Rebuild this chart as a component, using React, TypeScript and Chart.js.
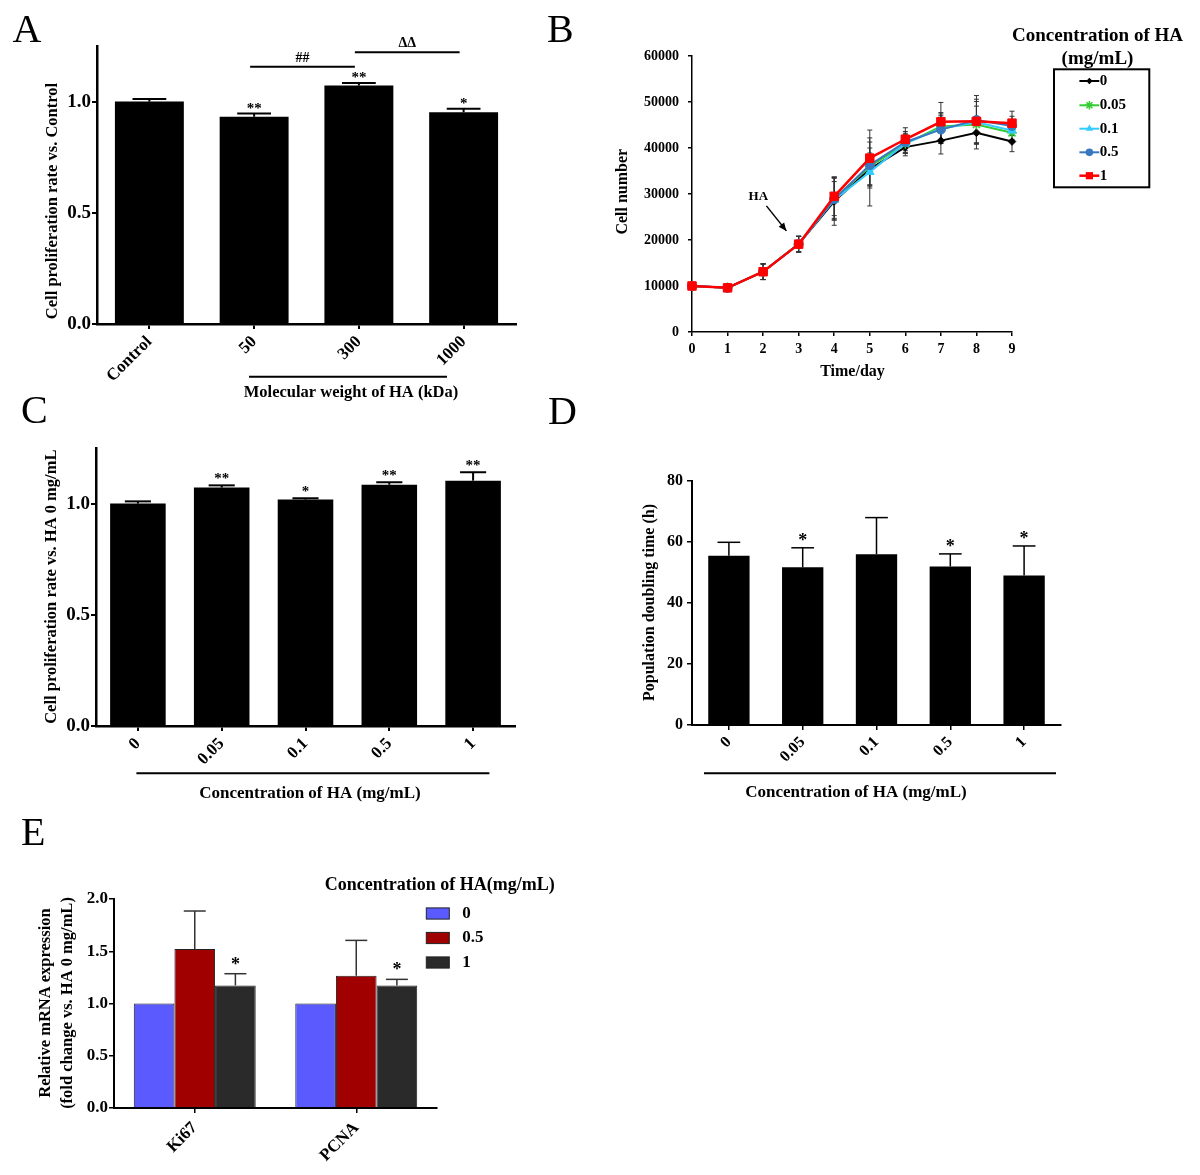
import React, { useEffect, useRef } from 'react';
import { Chart, registerables } from 'chart.js';

Chart.register(...registerables);

const SERIF = '"Liberation Serif", "Times New Roman", Times, serif';
const PAGE_W = 1200;
const PAGE_H = 1175;

// ---------------- Panel A ----------------
const A_CATEGORIES = ['Control', '50', '300', '1000'];
const A_VALUES = [1.0, 0.932, 1.072, 0.952];
const A_ERRORS = [0.012, 0.014, 0.012, 0.016];
const A_MARKS = ['', '**', '**', '*'];
const A_Y_TICKS = [0, 0.5, 1.0];
const A_BRACKETS = [
  { from: 1, to: 2, level: 1.157, label: '##' },
  { from: 2, to: 3, level: 1.222, label: 'ΔΔ' },
];

// ---------------- Panel B ----------------
const B_DAYS = [0, 1, 2, 3, 4, 5, 6, 7, 8, 9];
const B_X_TICKS = [0, 1, 2, 3, 4, 5, 6, 7, 8, 9];
const B_Y_TICKS = [0, 10000, 20000, 30000, 40000, 50000, 60000];
const B_SERIES_LABELS = ['0', '0.05', '0.1', '0.5', '1'];
const B_HA_0 = [10000, 9600, 13100, 19100, 28400, 35400, 40200, 41600, 43300, 41400];
const B_HA_005 = [10000, 9600, 13100, 19100, 29000, 36000, 40900, 44700, 45100, 43300];
const B_HA_01 = [10000, 9600, 13100, 19100, 28700, 34800, 41000, 44200, 45600, 43800];
const B_HA_05 = [10000, 9600, 13100, 19100, 28900, 36300, 41300, 44000, 46100, 44800];
const B_HA_1 = [10000, 9600, 13100, 19100, 29500, 37800, 41900, 45700, 45800, 45400];
const B_SD_0 = [250, 250, 1700, 1700, 5200, 3500, 1900, 2900, 3500, 2200];
const B_SD_005 = [250, 250, 1700, 1700, 4700, 4000, 2000, 3000, 4000, 2000];
const B_SD_01 = [250, 250, 1700, 1700, 4000, 7400, 2200, 3200, 4500, 2000];
const B_SD_05 = [250, 250, 1700, 1700, 4500, 5000, 2300, 3000, 5300, 2100];
const B_SD_1 = [250, 250, 1700, 1700, 4200, 6100, 2500, 4200, 4800, 2600];
const B_HA_ARROW = { fromDay: 2.093, fromVal: 27420, toDay: 2.655, toVal: 21980, textDay: 1.865, textVal: 29470 };

// ---------------- Panel C ----------------
const C_CATEGORIES = ['0', '0.05', '0.1', '0.5', '1'];
const C_VALUES = [1.0, 1.072, 1.018, 1.085, 1.103];
const C_ERRORS = [0.01, 0.01, 0.006, 0.011, 0.038];
const C_MARKS = ['', '**', '*', '**', '**'];
const C_Y_TICKS = [0, 0.5, 1.0];

// ---------------- Panel D ----------------
const D_CATEGORIES = ['0', '0.05', '0.1', '0.5', '1'];
const D_VALUES = [55.5, 51.7, 56.0, 52.0, 49.0];
const D_ERRORS = [4.4, 6.4, 12.0, 4.1, 9.7];
const D_MARKS = ['', '*', '', '*', '*'];
const D_Y_TICKS = [0, 20, 40, 60, 80];

// ---------------- Panel E ----------------
const E_CATEGORIES = ['Ki67', 'PCNA'];
const E_SERIES_LABELS = ['0', '0.5', '1'];
const E_HA_0 = [1.0, 1.0];
const E_HA_0_ERR = [0, 0];
const E_HA_05 = [1.522, 1.266];
const E_HA_05_ERR = [0.363, 0.338];
const E_HA_1 = [1.173, 1.173];
const E_HA_1_ERR = [0.112, 0.058];
const E_HA_1_MARKS = ['*', '*'];
const E_Y_TICKS = [0, 0.5, 1.0, 1.5, 2.0];

// ---------------- helpers ----------------
type Area = { left: number; top: number; right: number; bottom: number };

function frame(area: Area) {
  return {
    autoPadding: false,
    padding: { left: 0, top: area.top, right: PAGE_W - area.right, bottom: 0 },
  };
}

function label(
  ctx: CanvasRenderingContext2D,
  s: string,
  x: number,
  y: number,
  size: number,
  o: { weight?: string; align?: CanvasTextAlign; baseline?: CanvasTextBaseline; rotate?: number; color?: string } = {}
) {
  ctx.save();
  ctx.font = `${o.weight ?? 'bold'} ${size}px ${SERIF}`;
  ctx.fillStyle = o.color ?? '#000';
  ctx.textAlign = o.align ?? 'center';
  ctx.textBaseline = o.baseline ?? 'middle';
  ctx.translate(x, y);
  if (o.rotate) ctx.rotate(o.rotate);
  ctx.fillText(s, 0, 0);
  ctx.restore();
}

function segment(ctx: CanvasRenderingContext2D, x1: number, y1: number, x2: number, y2: number, w = 2, color = '#000') {
  ctx.save();
  ctx.strokeStyle = color;
  ctx.lineWidth = w;
  ctx.beginPath();
  ctx.moveTo(x1, y1);
  ctx.lineTo(x2, y2);
  ctx.stroke();
  ctx.restore();
}

function panelLetter(ctx: CanvasRenderingContext2D, s: string, x: number, y: number) {
  label(ctx, s, x, y, 40, { weight: 'normal', align: 'left', baseline: 'alphabetic' });
}

function marker(ctx: CanvasRenderingContext2D, style: string, x: number, y: number, r: number, color: string) {
  ctx.save();
  ctx.fillStyle = color;
  ctx.strokeStyle = color;
  ctx.lineWidth = 1.5;
  ctx.beginPath();
  if (style === 'rectRot') {
    ctx.moveTo(x, y - r); ctx.lineTo(x + r, y); ctx.lineTo(x, y + r); ctx.lineTo(x - r, y); ctx.closePath(); ctx.fill();
  } else if (style === 'star') {
    const d = r * Math.SQRT1_2;
    ctx.moveTo(x - r, y); ctx.lineTo(x + r, y);
    ctx.moveTo(x, y - r); ctx.lineTo(x, y + r);
    ctx.moveTo(x - d, y - d); ctx.lineTo(x + d, y + d);
    ctx.moveTo(x - d, y + d); ctx.lineTo(x + d, y - d);
    ctx.stroke();
  } else if (style === 'triangle') {
    ctx.moveTo(x, y - r); ctx.lineTo(x + r * 0.87, y + r * 0.5); ctx.lineTo(x - r * 0.87, y + r * 0.5); ctx.closePath(); ctx.fill();
  } else if (style === 'circle') {
    ctx.arc(x, y, r, 0, Math.PI * 2); ctx.fill();
  } else {
    const h = r * Math.SQRT1_2;
    ctx.rect(x - h, y - h, 2 * h, 2 * h); ctx.fill();
  }
  ctx.restore();
}

// ---------------- bar chart builder ----------------
interface BarSeries { values: number[]; errors: number[]; fill: string; stroke?: string }
interface BarSpec {
  area: Area;
  categories: string[];
  series: BarSeries[];
  yMax: number;
  yTicks: number[];
  yDigits: number;
  yFont: number;
  xFont: number;
  axisW: number;
  tickW: number;
  tickLen: number;
  yPad: number;
  xPad: number;
  barPct: number;
  catPct: number;
  capFrac: number;
  errW: number;
  errColor: string;
  decorate: (chart: any, ctx: CanvasRenderingContext2D) => void;
}

function barChart(spec: BarSpec): any {
  const grid = {
    display: true,
    drawOnChartArea: false,
    drawTicks: true,
    tickLength: spec.tickLen,
    color: '#000',
    lineWidth: spec.tickW,
  };
  const border = { display: true, color: '#000', width: spec.axisW };
  const plugin = {
    id: 'barDecor',
    afterDatasetsDraw(chart: any) {
      const ctx = chart.ctx as CanvasRenderingContext2D;
      const ys = chart.scales.y;
      spec.series.forEach((s, d) => {
        const meta = chart.getDatasetMeta(d);
        meta.data.forEach((el: any, i: number) => {
          const err = s.errors[i];
          if (!err) return;
          const top = ys.getPixelForValue(s.values[i] + err);
          const cap = (el.width * spec.capFrac) / 2;
          segment(ctx, el.x, el.y, el.x, top, spec.errW, spec.errColor);
          segment(ctx, el.x - cap, top, el.x + cap, top, spec.errW, spec.errColor);
        });
      });
    },
    afterDraw(chart: any) {
      spec.decorate(chart, chart.ctx);
    },
  };
  return {
    type: 'bar',
    data: {
      labels: spec.categories,
      datasets: spec.series.map((s) => ({
        data: s.values,
        backgroundColor: s.fill,
        borderColor: s.stroke ?? s.fill,
        borderWidth: s.stroke ? 1 : 0,
        barPercentage: spec.barPct,
        categoryPercentage: spec.catPct,
      })),
    },
    options: {
      animation: false,
      responsive: false,
      devicePixelRatio: 1,
      events: [],
      layout: frame(spec.area),
      plugins: { legend: { display: false }, tooltip: { enabled: false } },
      scales: {
        x: {
          type: 'category',
          offset: true,
          z: 1,
          grid: { ...grid, offset: false },
          border,
          ticks: {
            color: '#000',
            autoSkip: false,
            minRotation: 45,
            maxRotation: 45,
            padding: spec.xPad,
            font: { family: SERIF, weight: 'bold', size: spec.xFont },
          },
          afterFit: (s: any) => { s.height = PAGE_H - spec.area.bottom; },
        },
        y: {
          type: 'linear',
          min: 0,
          max: spec.yMax,
          grid,
          border,
          ticks: {
            color: '#000',
            padding: spec.yPad,
            font: { family: SERIF, weight: 'bold', size: spec.yFont },
            callback: (v: any) => Number(v).toFixed(spec.yDigits),
          },
          afterBuildTicks: (s: any) => { s.ticks = spec.yTicks.map((v) => ({ value: v })); },
          afterFit: (s: any) => { s.width = spec.area.left; },
        },
      },
    },
    plugins: [plugin],
  };
}

function starMarks(
  chart: any,
  ctx: CanvasRenderingContext2D,
  datasetIndex: number,
  values: number[],
  errors: number[],
  marks: string[],
  size: number,
  lift: number
) {
  const ys = chart.scales.y;
  const meta = chart.getDatasetMeta(datasetIndex);
  marks.forEach((m, i) => {
    if (!m) return;
    const el = meta.data[i];
    const y = ys.getPixelForValue(values[i] + errors[i]);
    label(ctx, m, el.x, y - lift, size, { baseline: 'alphabetic' });
  });
}

// ---------------- Panel configs ----------------
function configA() {
  return barChart({
    area: { left: 97, top: 46, right: 516, bottom: 324 },
    categories: A_CATEGORIES,
    series: [{ values: A_VALUES, errors: A_ERRORS, fill: '#000' }],
    yMax: 1.25,
    yTicks: A_Y_TICKS,
    yDigits: 1,
    yFont: 19,
    xFont: 17,
    axisW: 2.5,
    tickW: 2,
    tickLen: 5,
    yPad: 1,
    xPad: 3,
    barPct: 0.658,
    catPct: 1,
    capFrac: 0.49,
    errW: 2,
    errColor: '#000',
    decorate: (chart, ctx) => {
      panelLetter(ctx, 'A', 12.5, 41.7);
      label(ctx, 'Cell proliferation rate vs. Control', 53, 201, 16.5, { rotate: -Math.PI / 2 });
      segment(ctx, 249, 376.7, 447, 376.7, 2);
      label(ctx, 'Molecular weight of HA (kDa)', 351, 392.7, 16.5);
      starMarks(chart, ctx, 0, A_VALUES, A_ERRORS, A_MARKS, 15, 1);
      const xs = chart.scales.x;
      const ys = chart.scales.y;
      A_BRACKETS.forEach((b) => {
        const y = ys.getPixelForValue(b.level);
        const x1 = xs.getPixelForTick(b.from) - 4;
        const x2 = xs.getPixelForTick(b.to) - 4;
        segment(ctx, x1, y, x2, y, 2);
        label(ctx, b.label, (x1 + x2) / 2, y - 5, 14, { baseline: 'alphabetic' });
      });
    },
  });
}

function configC() {
  return barChart({
    area: { left: 96, top: 448, right: 515, bottom: 726 },
    categories: C_CATEGORIES,
    series: [{ values: C_VALUES, errors: C_ERRORS, fill: '#000' }],
    yMax: 1.25,
    yTicks: C_Y_TICKS,
    yDigits: 1,
    yFont: 19,
    xFont: 17,
    axisW: 2.5,
    tickW: 2,
    tickLen: 5,
    yPad: 1,
    xPad: 3,
    barPct: 0.663,
    catPct: 1,
    capFrac: 0.47,
    errW: 2,
    errColor: '#000',
    decorate: (chart, ctx) => {
      panelLetter(ctx, 'C', 21, 423);
      label(ctx, 'Cell proliferation rate vs. HA 0 mg/mL', 51.5, 586.7, 16.5, { rotate: -Math.PI / 2 });
      segment(ctx, 136.4, 773.3, 489.4, 773.3, 2);
      label(ctx, 'Concentration of HA (mg/mL)', 310, 793.3, 17);
      starMarks(chart, ctx, 0, C_VALUES, C_ERRORS, C_MARKS, 15, 2);
    },
  });
}

function configD() {
  return barChart({
    area: { left: 692, top: 481, right: 1061, bottom: 725 },
    categories: D_CATEGORIES,
    series: [{ values: D_VALUES, errors: D_ERRORS, fill: '#000' }],
    yMax: 80,
    yTicks: D_Y_TICKS,
    yDigits: 0,
    yFont: 16,
    xFont: 16,
    axisW: 2,
    tickW: 1.5,
    tickLen: 5,
    yPad: 4,
    xPad: 3,
    barPct: 0.56,
    catPct: 1,
    capFrac: 0.55,
    errW: 1.5,
    errColor: '#000',
    decorate: (chart, ctx) => {
      panelLetter(ctx, 'D', 548, 424);
      label(ctx, 'Population doubling time (h)', 650.3, 602.5, 16, { rotate: -Math.PI / 2 });
      segment(ctx, 704, 773.3, 1056, 773.3, 2);
      label(ctx, 'Concentration of HA (mg/mL)', 856, 792.7, 17);
      starMarks(chart, ctx, 0, D_VALUES, D_ERRORS, D_MARKS, 18, 2);
    },
  });
}

const E_COLORS = ['#5a5aff', '#a00000', '#2a2a2a'];

function configE() {
  const legendY = [913.5, 938, 962.5];
  return barChart({
    area: { left: 114, top: 899, right: 437, bottom: 1108 },
    categories: E_CATEGORIES,
    series: [
      { values: E_HA_0, errors: E_HA_0_ERR, fill: E_COLORS[0], stroke: '#222' },
      { values: E_HA_05, errors: E_HA_05_ERR, fill: E_COLORS[1], stroke: '#222' },
      { values: E_HA_1, errors: E_HA_1_ERR, fill: E_COLORS[2], stroke: '#222' },
    ],
    yMax: 2.0,
    yTicks: E_Y_TICKS,
    yDigits: 1,
    yFont: 17,
    xFont: 17,
    axisW: 2,
    tickW: 1.5,
    tickLen: 5,
    yPad: 1,
    xPad: 5,
    barPct: 1,
    catPct: 0.755,
    capFrac: 0.54,
    errW: 1.5,
    errColor: '#333',
    decorate: (chart, ctx) => {
      panelLetter(ctx, 'E', 21, 845);
      label(ctx, 'Relative mRNA expression', 46, 1003, 16.5, { rotate: -Math.PI / 2 });
      label(ctx, '(fold change vs. HA 0 mg/mL)', 68.2, 1003, 16.5, { rotate: -Math.PI / 2 });
      label(ctx, 'Concentration of HA(mg/mL)', 439.7, 885, 18);
      E_SERIES_LABELS.forEach((s, i) => {
        ctx.save();
        ctx.fillStyle = E_COLORS[i];
        ctx.strokeStyle = '#222';
        ctx.lineWidth = 1;
        ctx.fillRect(426.3, legendY[i] - 5.6, 23, 11.2);
        ctx.strokeRect(426.3, legendY[i] - 5.6, 23, 11.2);
        ctx.restore();
        label(ctx, s, 462.3, legendY[i], 17, { align: 'left' });
      });
      starMarks(chart, ctx, 2, E_HA_1, E_HA_1_ERR, E_HA_1_MARKS, 18, 4);
    },
  });
}

const B_SERIES = [
  { values: B_HA_0, sd: B_SD_0, color: '#000000', marker: 'rectRot', radius: 3.8, lineW: 2, order: 4 },
  { values: B_HA_005, sd: B_SD_005, color: '#33cc33', marker: 'star', radius: 5, lineW: 2, order: 3 },
  { values: B_HA_01, sd: B_SD_01, color: '#33ccff', marker: 'triangle', radius: 5, lineW: 2, order: 2 },
  { values: B_HA_05, sd: B_SD_05, color: '#3878c0', marker: 'circle', radius: 4.5, lineW: 2, order: 1 },
  { values: B_HA_1, sd: B_SD_1, color: '#ff0000', marker: 'rect', radius: 6, lineW: 2.5, order: 0 },
];

function configB() {
  const area: Area = { left: 692, top: 56, right: 1012, bottom: 332 };
  const grid = { display: true, drawOnChartArea: false, drawTicks: true, tickLength: 4, color: '#000', lineWidth: 1.5 };
  const border = { display: true, color: '#000', width: 1.5 };
  const legendY = [81, 105.3, 128.7, 152.3, 175.7];
  const plugin = {
    id: 'lineDecor',
    beforeDatasetsDraw(chart: any) {
      const ctx = chart.ctx as CanvasRenderingContext2D;
      const ys = chart.scales.y;
      const xs = chart.scales.x;
      B_SERIES.forEach((s) => {
        B_DAYS.forEach((d, i) => {
          const x = xs.getPixelForValue(d);
          const y1 = ys.getPixelForValue(s.values[i] - s.sd[i]);
          const y2 = ys.getPixelForValue(s.values[i] + s.sd[i]);
          segment(ctx, x, y1, x, y2, 1, '#333');
          segment(ctx, x - 2.5, y1, x + 2.5, y1, 1, '#333');
          segment(ctx, x - 2.5, y2, x + 2.5, y2, 1, '#333');
        });
      });
    },
    afterDraw(chart: any) {
      const ctx = chart.ctx as CanvasRenderingContext2D;
      const xs = chart.scales.x;
      const ys = chart.scales.y;
      panelLetter(ctx, 'B', 547, 42);
      label(ctx, 'Cell number', 623, 191.7, 16, { rotate: -Math.PI / 2 });
      label(ctx, 'Time/day', 852.5, 371.7, 16);
      // HA arrow
      const ax1 = xs.getPixelForValue(B_HA_ARROW.fromDay);
      const ay1 = ys.getPixelForValue(B_HA_ARROW.fromVal);
      const ax2 = xs.getPixelForValue(B_HA_ARROW.toDay);
      const ay2 = ys.getPixelForValue(B_HA_ARROW.toVal);
      segment(ctx, ax1, ay1, ax2, ay2, 1.5);
      const ang = Math.atan2(ay2 - ay1, ax2 - ax1);
      ctx.save();
      ctx.fillStyle = '#000';
      ctx.beginPath();
      ctx.moveTo(ax2, ay2);
      ctx.lineTo(ax2 - 8 * Math.cos(ang) + 3.5 * Math.sin(ang), ay2 - 8 * Math.sin(ang) - 3.5 * Math.cos(ang));
      ctx.lineTo(ax2 - 8 * Math.cos(ang) - 3.5 * Math.sin(ang), ay2 - 8 * Math.sin(ang) + 3.5 * Math.cos(ang));
      ctx.closePath();
      ctx.fill();
      ctx.restore();
      label(ctx, 'HA', xs.getPixelForValue(B_HA_ARROW.textDay), ys.getPixelForValue(B_HA_ARROW.textVal), 13);
      // legend
      label(ctx, 'Concentration of HA', 1097.5, 36, 19);
      label(ctx, '(mg/mL)', 1097.5, 59.5, 19);
      ctx.save();
      ctx.strokeStyle = '#000';
      ctx.lineWidth = 2;
      ctx.strokeRect(1054, 69.3, 95.3, 118);
      ctx.restore();
      B_SERIES.forEach((s, i) => {
        const y = legendY[i];
        segment(ctx, 1079.4, y, 1099.3, y, s.lineW, s.color);
        marker(ctx, s.marker, 1089.4, y, s.radius * 0.85, s.color);
        label(ctx, B_SERIES_LABELS[i], 1099.8, y, 15, { align: 'left' });
      });
    },
  };
  return {
    type: 'line',
    data: {
      datasets: B_SERIES.map((s, k) => ({
        label: B_SERIES_LABELS[k],
        data: B_DAYS.map((d, i) => ({ x: d, y: s.values[i] })),
        borderColor: s.color,
        backgroundColor: s.color,
        borderWidth: s.lineW,
        pointStyle: s.marker,
        pointRadius: s.radius,
        pointBorderWidth: s.marker === 'star' ? 1.5 : 1,
        pointBorderColor: s.color,
        pointBackgroundColor: s.color,
        order: s.order,
        clip: false,
        tension: 0,
      })),
    },
    options: {
      animation: false,
      responsive: false,
      devicePixelRatio: 1,
      events: [],
      layout: frame(area),
      plugins: { legend: { display: false }, tooltip: { enabled: false } },
      scales: {
        x: {
          type: 'linear',
          min: 0,
          max: 9,
          grid,
          border,
          ticks: {
            color: '#000',
            padding: 5,
            minRotation: 0,
            maxRotation: 0,
            font: { family: SERIF, weight: 'bold', size: 14 },
          },
          afterBuildTicks: (s: any) => { s.ticks = B_X_TICKS.map((v) => ({ value: v })); },
          afterFit: (s: any) => { s.height = PAGE_H - area.bottom; },
        },
        y: {
          type: 'linear',
          min: 0,
          max: 60000,
          grid,
          border,
          ticks: {
            color: '#000',
            padding: 9,
            font: { family: SERIF, weight: 'bold', size: 14 },
            callback: (v: any) => String(v),
          },
          afterBuildTicks: (s: any) => { s.ticks = B_Y_TICKS.map((v) => ({ value: v })); },
          afterFit: (s: any) => { s.width = area.left; },
        },
      },
    },
    plugins: [plugin],
  };
}

const CONFIGS = [configA, configB, configC, configD, configE];

export default function App() {
  const refs = useRef<(HTMLCanvasElement | null)[]>([]);
  useEffect(() => {
    const charts = CONFIGS.map((mk, i) => new Chart(refs.current[i] as HTMLCanvasElement, mk() as any));
    return () => charts.forEach((c) => c.destroy());
  }, []);
  return (
    <div style={{ position: 'absolute', left: 0, top: 0, width: PAGE_W, height: PAGE_H, background: '#fff', overflow: 'hidden' }}>
      {CONFIGS.map((_, i) => (
        <canvas
          key={i}
          ref={(el) => { refs.current[i] = el; }}
          width={PAGE_W}
          height={PAGE_H}
          style={{ position: 'absolute', left: 0, top: 0, width: PAGE_W, height: PAGE_H }}
        />
      ))}
    </div>
  );
}
